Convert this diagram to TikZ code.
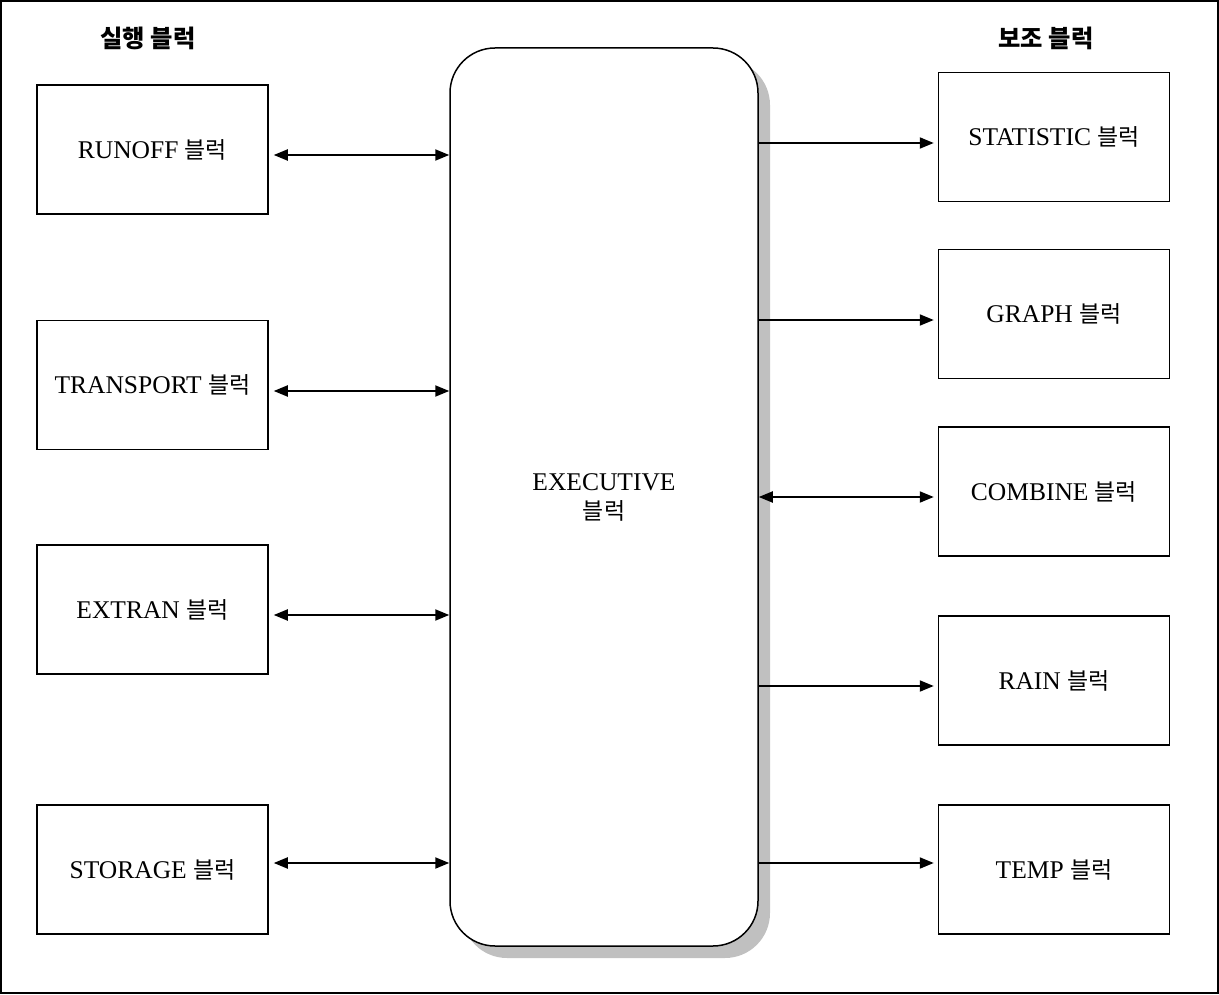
\documentclass[tikz,border=0pt]{standalone}
\usepackage{fontspec}
\setmainfont{Liberation Serif}
\newfontfamily\cjk{Noto Sans CJK KR}[Scale=0.9]
\usetikzlibrary{arrows.meta,shadows,calc}
\tikzset{
  box/.style={draw, line width=1.5pt, minimum width=231pt, minimum height=129pt, inner sep=0pt,
    font=\fontsize{25.5}{30}\selectfont},
  hdr/.style={font=\fontsize{27}{30}\selectfont\bfseries, inner sep=0pt},
  arr/.style={line width=2pt, -{Triangle[length=14pt,width=11pt]}},
  dbl/.style={line width=2pt, {Triangle[length=14pt,width=11pt]}-{Triangle[length=14pt,width=11pt]}},
  execbox/.style={draw, line width=1.5pt, rounded corners=45pt, minimum width=308pt, minimum height=898pt,
    fill=white, inner sep=0pt, align=center, font=\fontsize{25.5}{30}\selectfont,
    drop shadow={shadow xshift=12pt, shadow yshift=-12pt, fill={rgb,255:red,192;green,192;blue,192}, opacity=1}}
}
\begin{document}
\begin{tikzpicture}[x=1pt,y=-1pt]
\useasboundingbox (0,0) rectangle (1219,995);
\draw[line width=2pt] (1,1) rectangle (1218,993);

\node[hdr] (hl) at (148,38) {\cjk 실행 블럭};
\node[hdr] (hr) at (1046,38) {\cjk 보조 블럭};

\node[execbox] (exec) at (604,497) {EXECUTIVE\\[-1pt]{\cjk 블럭}};

\node[box] (runoff) at (152.5,149.5) {RUNOFF {\cjk 블럭}};
\node[box] (transport) at (152.5,385) {TRANSPORT {\cjk 블럭}};
\node[box] (extran) at (152.5,609.5) {EXTRAN {\cjk 블럭}};
\node[box] (storage) at (152.5,869.5) {STORAGE {\cjk 블럭}};

\node[box] (statistic) at (1054,137) {STATISTIC {\cjk 블럭}};
\node[box] (graph) at (1054,314) {GRAPH {\cjk 블럭}};
\node[box] (combine) at (1054,491.5) {COMBINE {\cjk 블럭}};
\node[box] (rain) at (1054,680.5) {RAIN {\cjk 블럭}};
\node[box] (temp) at (1054,869.5) {TEMP {\cjk 블럭}};

\draw[dbl] ($(runoff.east)+(5,5.5)$) -- ($(runoff.east -| exec.west)+(0,5.5)$);
\draw[dbl] ($(transport.east)+(5,6)$) -- ($(transport.east -| exec.west)+(0,6)$);
\draw[dbl] ($(extran.east)+(5,5.5)$) -- ($(extran.east -| exec.west)+(0,5.5)$);
\draw[dbl] ($(storage.east)+(5,-6.5)$) -- ($(storage.east -| exec.west)+(0,-6.5)$);

\draw[arr] ($(statistic.west -| exec.east)+(0,6)$) -- ($(statistic.west)+(-4,6)$);
\draw[arr] ($(graph.west -| exec.east)+(0,6)$) -- ($(graph.west)+(-4,6)$);
\draw[dbl] ($(combine.west -| exec.east)+(0,5.5)$) -- ($(combine.west)+(-4,5.5)$);
\draw[arr] ($(rain.west -| exec.east)+(0,5.5)$) -- ($(rain.west)+(-4,5.5)$);
\draw[arr] ($(temp.west -| exec.east)+(0,-6.5)$) -- ($(temp.west)+(-4,-6.5)$);
\end{tikzpicture}
\end{document}
